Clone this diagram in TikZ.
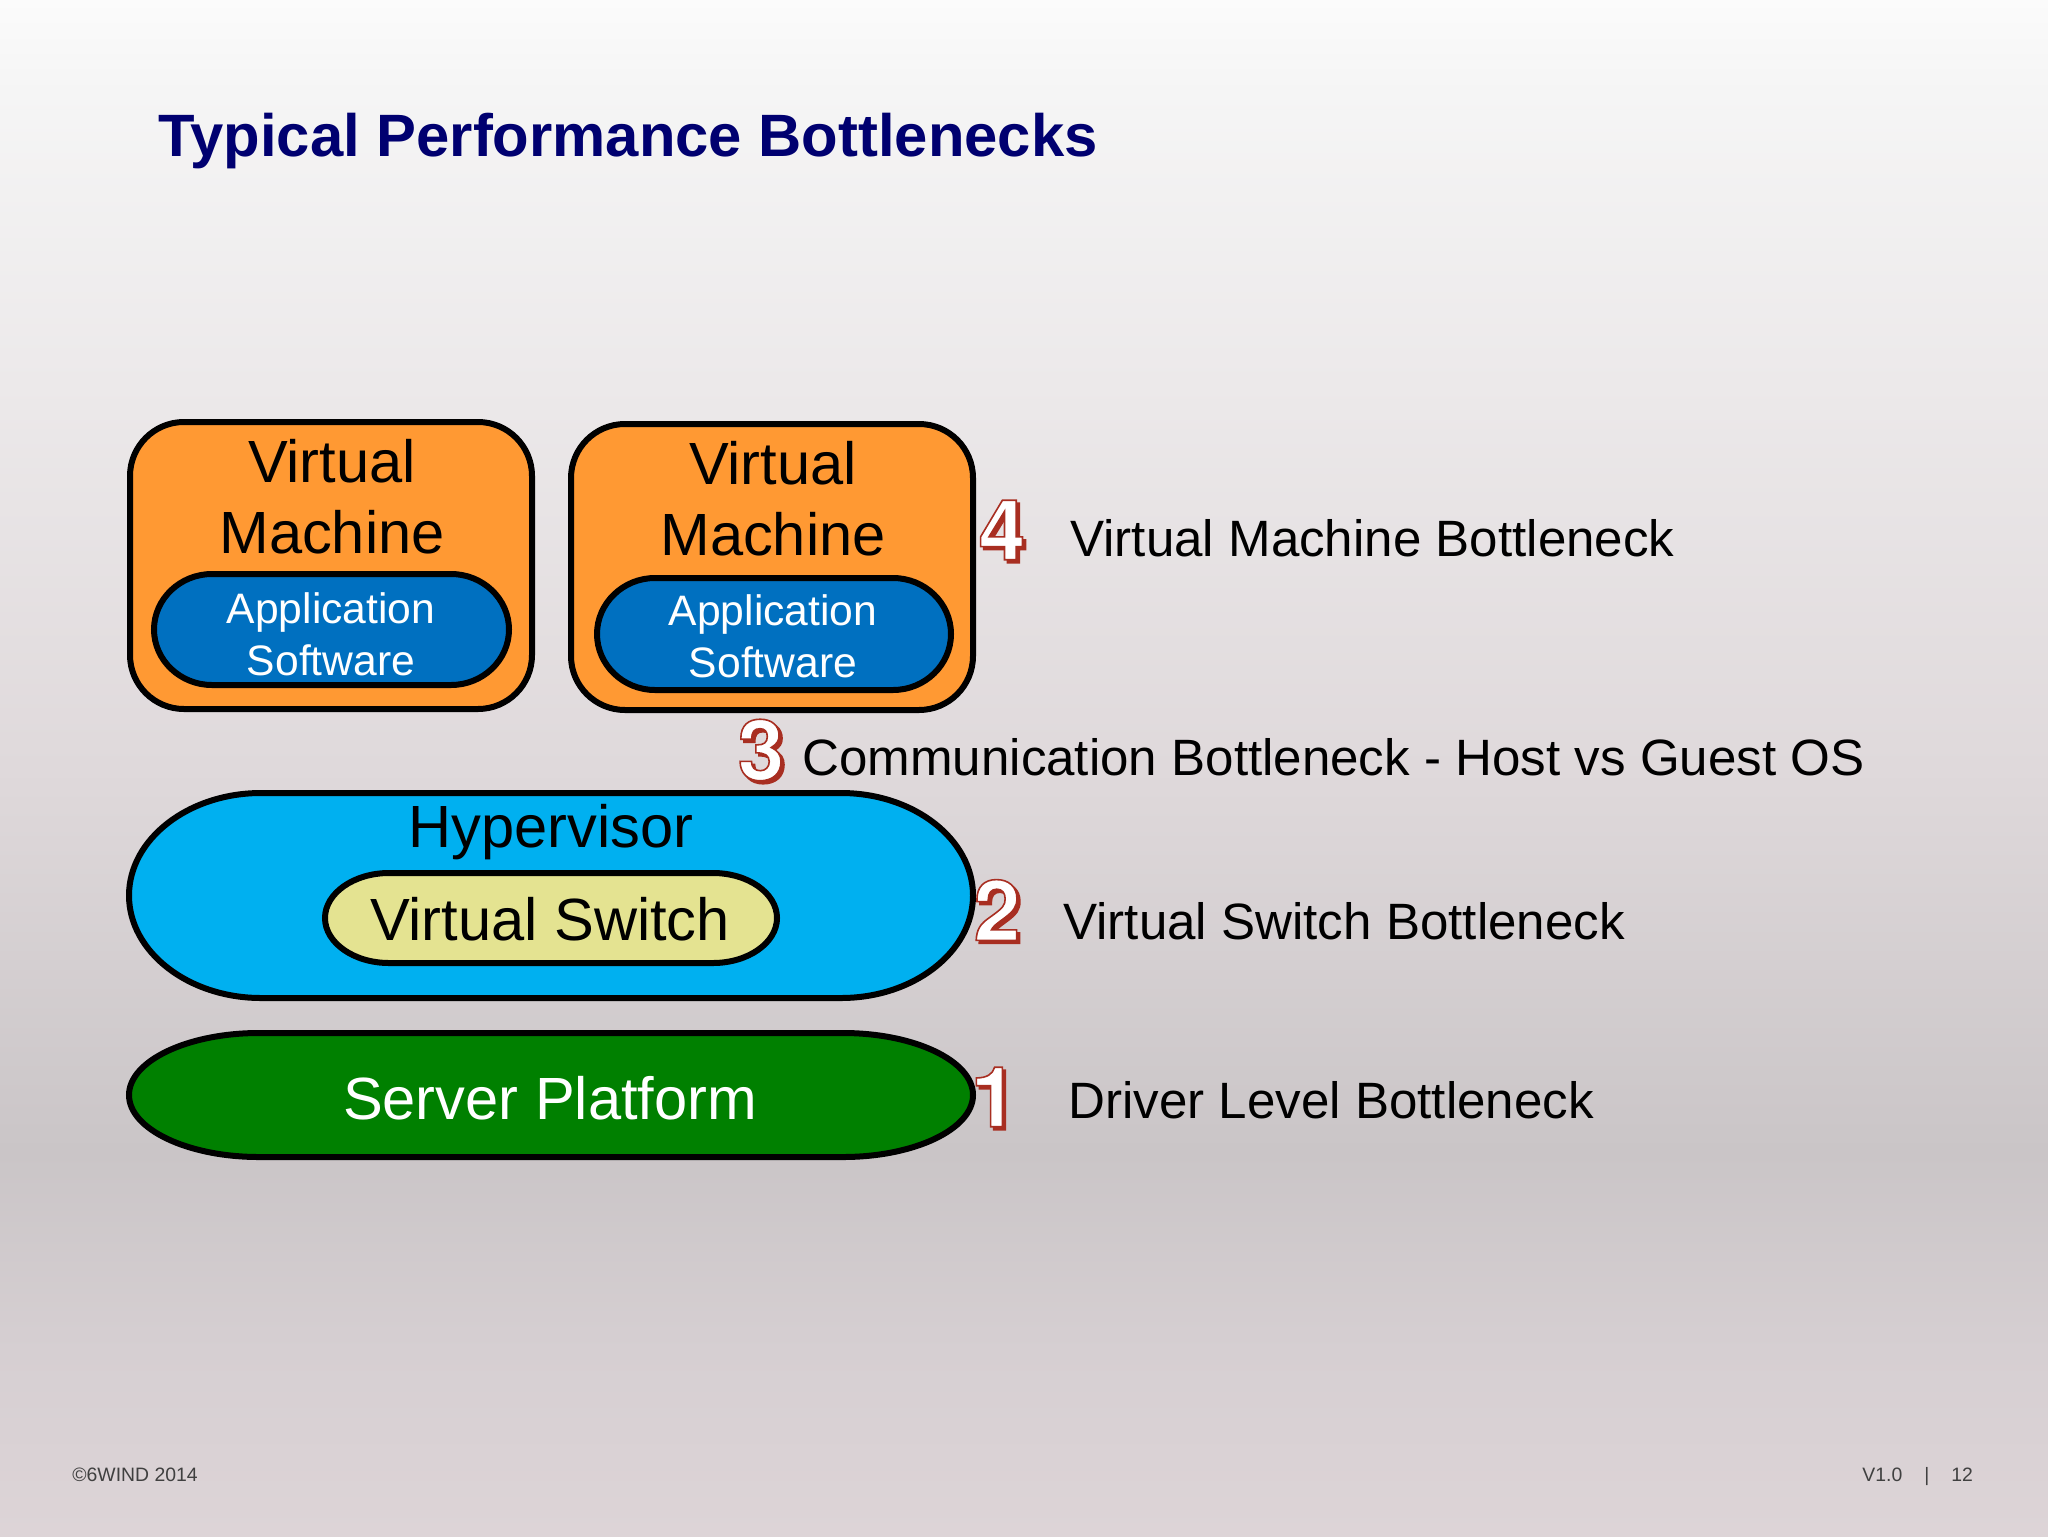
\documentclass[tikz,border=0pt]{standalone}
\usepackage{fontspec}
\setmainfont{Liberation Sans}
\newfontfamily\numfont{TeX Gyre Heros}
\usepackage{tikz}

\definecolor{vmorange}{HTML}{FF9933}
\definecolor{appblue}{HTML}{0070C0}
\definecolor{hyperblue}{HTML}{00B0F0}
\definecolor{switchyellow}{HTML}{E4E391}
\definecolor{servergreen}{HTML}{008000}
\definecolor{titlenavy}{HTML}{000070}
\definecolor{footgray}{HTML}{404040}
\definecolor{numred}{HTML}{A82E22}

\definecolor{bgz}{HTML}{FBFBFB}
\definecolor{bga}{HTML}{F5F5F5}
\definecolor{bgb}{HTML}{ECE9EA}
\definecolor{bgc}{HTML}{DFD9DB}
\definecolor{bgd}{HTML}{CAC5C7}
\definecolor{bge}{HTML}{D6CFD2}
\definecolor{bgf}{HTML}{DDD4D7}
\pgfdeclareverticalshading{slidebg}{100bp}{
	color(0bp)=(bgf); color(25bp)=(bgf); color(31bp)=(bge); color(37.5bp)=(bgd);
	color(50bp)=(bgc); color(62.5bp)=(bgb); color(72bp)=(bga); color(75bp)=(bgz); color(100bp)=(bgz)}

\tikzset{
	outlinebox/.style={line width=3pt, draw=black},
	vmbox/.style={outlinebox, fill=vmorange, rounded corners=27pt, minimum width=201pt, inner sep=0pt},
	vmtext/.style={inner sep=0pt, align=center, font=\fontsize{29.8}{35.5}\selectfont},
	apptext/.style={inner sep=0pt, align=center, text=white, font=\fontsize{21.3}{26}\selectfont},
	bigtext/.style={inner sep=0pt, anchor=base, font=\fontsize{29.8}{35}\selectfont},
	sidetext/.style={inner sep=0pt, anchor=base west, font=\fontsize{25.55}{30}\selectfont},
	foottext/.style={inner sep=0pt, anchor=base west, text=footgray, font=\fontsize{9.7}{12}\selectfont},
	numtext/.style={inner sep=0pt, text=white, font=\fontsize{42}{42}\numfont\bfseries},
	numshadow/.style={numtext, text=numred}
}

% filled and stroked digit
\newcommand{\strokedigit}[1]{\special{pdf:code q 2 Tr 0.8 w 0.66 0.18 0.13 RG}#1\special{pdf:code Q}}

% x1, y1, x2, y2, end radius, fill
\newcommand{\pillbox}[6]{
	\pgfmathsetmacro{\pillry}{(#4-#2)/2}
	\draw[outlinebox, fill=#6] (#1+#5,#2) -- (#3-#5,#2)
		.. controls (#3-0.45*#5,#2) and (#3,#2+0.45*\pillry) .. (#3,#2+\pillry)
		.. controls (#3,#4-0.45*\pillry) and (#3-0.45*#5,#4) .. (#3-#5,#4)
		-- (#1+#5,#4)
		.. controls (#1+0.45*#5,#4) and (#1,#4-0.45*\pillry) .. (#1,#2+\pillry)
		.. controls (#1,#2+0.45*\pillry) and (#1+0.45*#5,#2) .. (#1+#5,#2) -- cycle;
}

% name, x, y, digit
\newcommand{\numbadge}[4]{
	\node[numshadow] (#1shadow) at (#2+3,#3+3) {\strokedigit{#4}};
	\node[numtext] (#1) at (#2,#3) {\strokedigit{#4}};
}

\begin{document}
\begin{tikzpicture}[x=0.5pt,y=-0.5pt]
	\useasboundingbox (0,0) rectangle (2048,1536);
	\shade[shading=slidebg] (0,0) rectangle (2048,1536);

	\node[inner sep=0pt, anchor=base west, text=titlenavy, font=\fontsize{29.9}{35}\selectfont\bfseries] (title) at (158,156) {Typical Performance Bottlenecks};

	% virtual machines
	\node[vmbox, minimum height=143.5pt] (vmone) at (331,565.5) {};
	\node[vmbox, minimum height=143pt] (vmtwo) at (772,567) {};
	\node[vmtext] (vmonetext) at (332,497) {Virtual\\Machine};
	\node[vmtext] (vmtwotext) at (773,499) {Virtual\\Machine};
	\pillbox{154}{574}{509}{685}{58}{appblue}
	\pillbox{597}{578}{951}{690}{58}{appblue}
	\node[apptext] (apponetext) at (331,634) {Application\\Software};
	\node[apptext] (apptwotext) at (773,636) {Application\\Software};

	% hypervisor
	\pillbox{129}{793}{973}{998}{132}{hyperblue}
	\node[bigtext] (hypervisor) at (551,847) {Hypervisor};
	\pillbox{325}{873}{777}{963}{64}{switchyellow}
	\node[bigtext] (vswitch) at (550,940) {Virtual Switch};

	% server
	\pillbox{129}{1033}{973}{1157}{130}{servergreen}
	\node[bigtext, text=white] (server) at (550,1119) {Server Platform};

	% bottleneck numbers
	\numbadge{numfour}{1002}{530}{4}
	\numbadge{numthree}{761}{750}{3}
	\numbadge{numtwo}{997}{910}{2}
	\numbadge{numone}{994}{1097}{1}

	\node[sidetext] (vmneck) at (1070,556) {Virtual Machine Bottleneck};
	\node[sidetext] (commneck) at (802,775) {Communication Bottleneck - Host vs Guest OS};
	\node[sidetext] (switchneck) at (1063,939) {Virtual Switch Bottleneck};
	\node[sidetext] (driverneck) at (1068,1118) {Driver Level Bottleneck};

	% footer
	\node[foottext] (copyright) at (72,1481) {©6WIND 2014};
	\node[foottext] (version) at (1862,1481) {V1.0};
	\node[foottext] (sepbar) at (1924,1481) {|};
	\node[foottext] (pagenum) at (1951,1481) {12};
\end{tikzpicture}
\end{document}
